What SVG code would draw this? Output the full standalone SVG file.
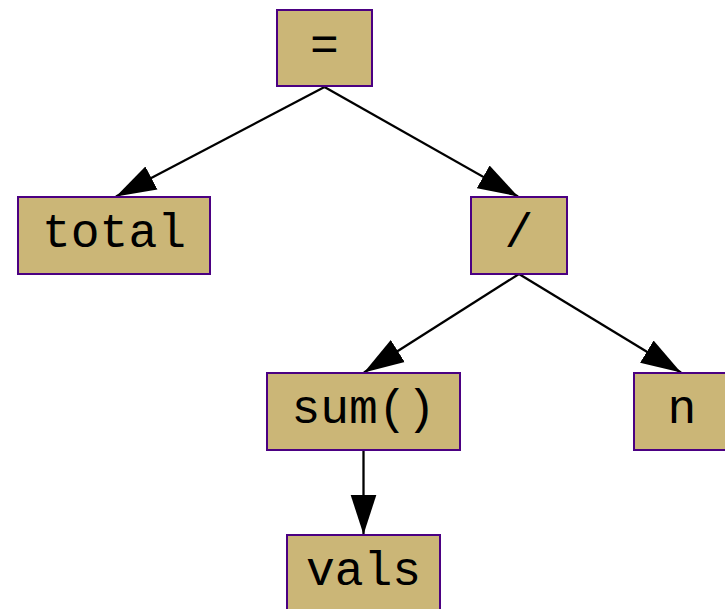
<svg xmlns="http://www.w3.org/2000/svg" width="725" height="609" viewBox="0 0 725 609">
<defs>
<style>
.node rect{fill:#cbb677;stroke:#4b0082;stroke-width:2}
.node text{font-family:"Liberation Mono",monospace;font-size:48px;fill:#000;text-anchor:middle;dominant-baseline:central}
.edges line{stroke:#000;stroke-width:2.3}
</style>
<marker id="arr" markerUnits="userSpaceOnUse" markerWidth="40" markerHeight="28" refX="40" refY="13" orient="auto" viewBox="0 0 40 26">
<path d="M0,0 L40,13 L0,26 z" fill="#000"/>
</marker>
</defs>
<rect width="725" height="609" fill="#fff"/>
<g class="edges">
<line x1="324.5" y1="87" x2="116" y2="196.5" marker-end="url(#arr)"/>
<line x1="324.5" y1="87" x2="518" y2="196.5" marker-end="url(#arr)"/>
<line x1="519" y1="274" x2="364" y2="372.5" marker-end="url(#arr)"/>
<line x1="519" y1="274" x2="681" y2="372.5" marker-end="url(#arr)"/>
<line x1="363.5" y1="450" x2="363.5" y2="534.5" marker-end="url(#arr)"/>
</g>
<g id="n-eq" class="node"><rect x="277" y="10" width="95" height="76"/><text x="324.5" y="47">=</text></g>
<g id="n-total" class="node"><rect x="18" y="197" width="192" height="77"/><text x="114" y="234">total</text></g>
<g id="n-div" class="node"><rect x="471" y="197" width="96" height="77"/><text x="519" y="234">/</text></g>
<g id="n-sum" class="node"><rect x="267" y="373" width="193" height="77"/><text x="363.5" y="410">sum()</text></g>
<g id="n-n" class="node"><rect x="634" y="373" width="96" height="77"/><text x="682" y="410">n</text></g>
<g id="n-vals" class="node"><rect x="287" y="535" width="153" height="77"/><text x="363.5" y="572">vals</text></g>
</svg>
